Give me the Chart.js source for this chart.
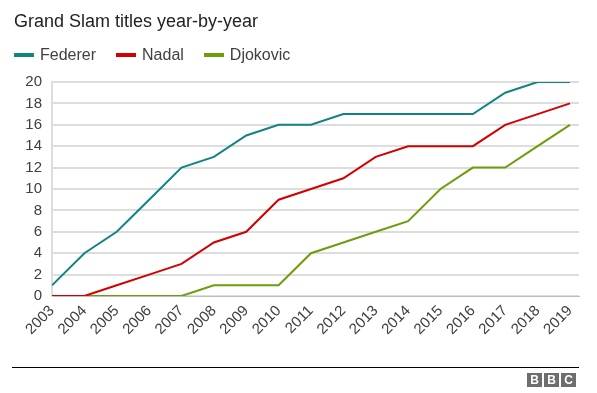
<!DOCTYPE html>
<html>
<head>
<meta charset="utf-8">
<script src="https://cdn.jsdelivr.net/npm/chart.js@4/dist/chart.umd.min.js"></script>
<style>
  html, body { margin:0; padding:0; background:#fff; }
  body { width:597px; height:393px; position:relative; overflow:hidden; font-family:"Liberation Sans", Arial, Helvetica, sans-serif; }
  #title { position:absolute; left:14px; top:12px; font-size:18px; line-height:18px; color:#222; white-space:nowrap; }
  #legend { position:absolute; left:14px; top:47px; height:16px; display:flex; align-items:center; font-size:16px; line-height:16px; color:#404040; white-space:nowrap; }
  .item { display:flex; align-items:center; margin-right:20px; }
  .sw { width:20px; height:4px; margin-right:6px; }
  #chartWrap { position:absolute; left:0; top:0; width:597px; height:393px; }
  #rule { position:absolute; left:12px; top:367px; width:567px; height:1px; background:#000; }
  #bbc { position:absolute; left:527px; top:373px; display:flex; }
  #bbc span { display:block; width:15px; height:14px; margin-right:2px; background:#6e6e6e; color:#fff; font-weight:bold; font-size:12px; line-height:14px; text-align:center; }
</style>
</head>
<body>
<div id="chartWrap"><canvas id="c" width="597" height="393"></canvas></div>
<div id="title">Grand Slam titles year-by-year</div>
<div id="legend"></div>
<div id="rule"></div>
<div id="bbc"><span>B</span><span>B</span><span>C</span></div>
<script>
const years = [2003,2004,2005,2006,2007,2008,2009,2010,2011,2012,2013,2014,2015,2016,2017,2018,2019];
const seriesNames = ["Federer", "Nadal", "Djokovic"];
const federer  = [1,4,6,9,12,13,15,16,16,17,17,17,17,17,19,20,20];
const nadal    = [0,0,1,2,3,5,6,9,10,11,13,14,14,14,16,17,18];
const djokovic = [0,0,0,0,0,1,1,1,4,5,6,7,10,12,12,14,16];
const yTicks = [0,2,4,6,8,10,12,14,16,18,20];
const colors = ["#128383", "#d20000", "#6c9e0c"];

const seriesValues = [federer, nadal, djokovic];

// legend (HTML)
const leg = document.getElementById('legend');
seriesNames.forEach((n, i) => {
  const it = document.createElement('div'); it.className = 'item';
  const sw = document.createElement('div'); sw.className = 'sw'; sw.style.background = colors[i];
  const tx = document.createElement('span'); tx.textContent = n;
  it.appendChild(sw); it.appendChild(tx); leg.appendChild(it);
});

const datasets = seriesNames.map((n, i) => ({
  label: n,
  data: years.map((y, j) => ({x: y, y: seriesValues[i][j]})),
  borderColor: colors[i],
  backgroundColor: colors[i],
  borderWidth: 2,
  pointRadius: 0,
  tension: 0,
  fill: false
}));

const font = { family: "'Liberation Sans', Arial, sans-serif", size: 15 };

new Chart(document.getElementById('c'), {
  type: 'line',
  data: { datasets },
  options: {
    responsive: false,
    animation: false,
    events: [],
    layout: { padding: { top: 82, right: 18, bottom: 0, left: 0 } },
    plugins: { legend: { display: false }, title: { display: false }, tooltip: { enabled: false } },
    scales: {
      x: {
        type: 'linear',
        min: years[0],
        max: years[years.length - 1] + 0.278,
        afterBuildTicks: (s) => { s.ticks = years.map(v => ({ value: v })); },
        afterFit: (s) => { s.height = 97; },
        grid: { display: false, drawTicks: false },
        border: { display: true, color: '#bdbdbd', width: 1 },
        ticks: {
          autoSkip: false,
          minRotation: 45,
          maxRotation: 45,
          padding: 6,
          color: '#404040',
          font,
          callback: (v) => String(v)
        }
      },
      y: {
        min: 0,
        max: 20,
        afterBuildTicks: (s) => { s.ticks = yTicks.map(v => ({ value: v })); },
        afterFit: (s) => { s.width = 52; },
        grid: { color: '#dddddd', lineWidth: 2, drawTicks: false },
        border: { display: true, color: '#dddddd', width: 2 },
        ticks: { padding: 10, color: '#404040', font }
      }
    }
  }
});
</script>
</body>
</html>
